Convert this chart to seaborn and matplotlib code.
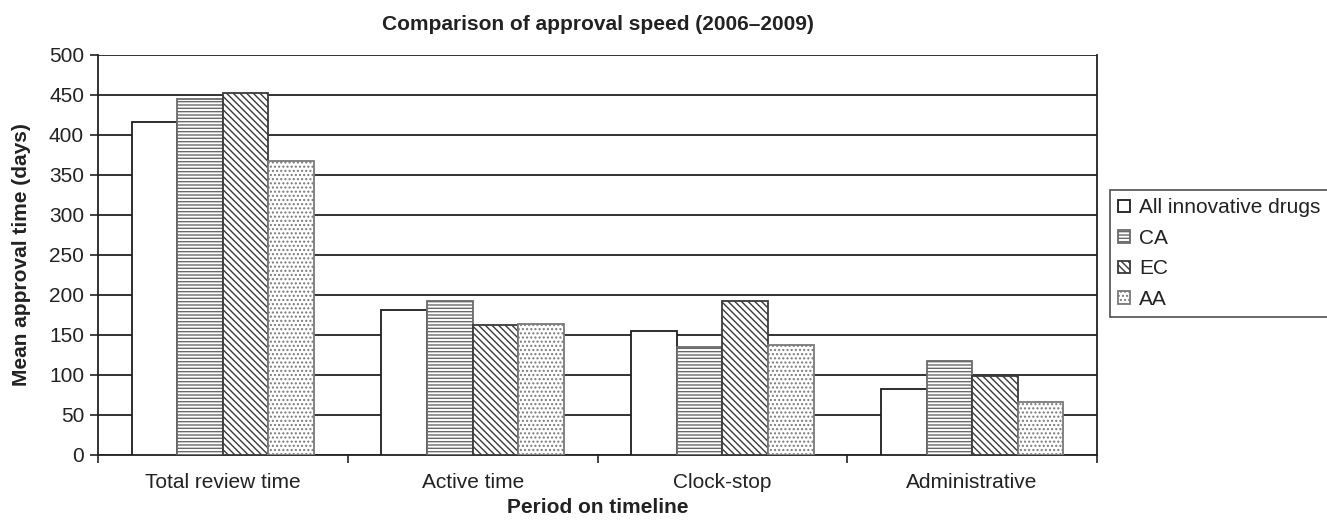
import matplotlib
matplotlib.use("Agg")
import matplotlib.pyplot as plt
import seaborn as sns
import pandas as pd
import numpy as np

# Mean approval times (days) per period and drug group
periods = ["Total review time", "Active time", "Clock-stop", "Administrative"]
groups = ["All innovative drugs", "CA", "EC", "AA"]
all_drugs = [416, 181, 155, 83]
ca = [445, 192, 135, 117]
ec = [452, 162, 192, 99]
aa = [367, 164, 138, 66]
y_ticks = [0, 50, 100, 150, 200, 250, 300, 350, 400, 450, 500]

df = pd.DataFrame({
    "Period": periods * 4,
    "Group": [g for g in groups for _ in periods],
    "Days": all_drugs + ca + ec + aa,
})

sns.set_theme(style="white")
plt.rcParams["font.family"] = ["Liberation Sans", "DejaVu Sans"]
plt.rcParams["hatch.linewidth"] = 1.0

fig = plt.figure(figsize=(13.27, 5.23), dpi=100)
ax = fig.add_axes([98 / 1327, 1 - 455 / 523, (1097 - 98) / 1327, 400 / 523])

sns.barplot(data=df, x="Period", y="Days", hue="Group", order=periods,
            hue_order=groups, width=0.73, dodge=True, gap=0,
            palette=["white"] * 4, saturation=1, edgecolor="#2a2a2a",
            linewidth=1.3, ax=ax, legend=True, zorder=3)

hatches = ["", "-----", "\\" * 5, "...."]
hatch_edges = ["#1e1e1e", "#6a6a6a", "#3a3a3a", "#7a7a7a"]
for cont, h, ec_ in zip(ax.containers, hatches, hatch_edges):
    for p in cont.patches:
        p.set_hatch(h)
        p.set_facecolor("white")
        p.set_edgecolor(ec_)

ax.set_ylim(0, 500)
ax.set_xlim(-0.5, 3.5)
ax.set_yticks(y_ticks)
ax.yaxis.grid(True, color="#222222", linewidth=1.3)
ax.set_axisbelow(True)
for s in ["left", "bottom", "right"]:
    ax.spines[s].set_color("#222222")
    ax.spines[s].set_linewidth(1.3)
ax.spines["top"].set_visible(False)

ax.tick_params(axis="y", direction="out", length=6, width=1.2, color="#222222",
               labelsize=15, labelcolor="#222222", left=True, pad=4)
ax.tick_params(axis="x", which="major", length=0, labelsize=15,
               labelcolor="#222222", pad=13)
ax.set_xticks(np.arange(-0.5, 4.0, 1.0), minor=True)
ax.tick_params(axis="x", which="minor", direction="out", length=6, width=1.2,
               color="#222222", bottom=True)

ax.set_xlabel("Period on timeline", fontsize=15, fontweight="bold",
              color="#222222", labelpad=4)
ax.set_ylabel("Mean approval time (days)", fontsize=15, fontweight="bold",
              color="#222222", labelpad=13)
ax.set_title("Comparison of approval speed (2006\u20132009)", fontsize=15,
             fontweight="bold", color="#222222", pad=18)

handles, labels = ax.get_legend_handles_labels()
for hd, h, ec_ in zip(handles, hatches, hatch_edges):
    hd.set_hatch(h)
    hd.set_edgecolor(ec_)
leg = ax.legend(handles, labels, loc="upper left",
                bbox_to_anchor=(1110 / 1327, 1 - 190 / 523),
                bbox_transform=fig.transFigure, fontsize=15, frameon=True,
                fancybox=False, edgecolor="#222222", handlelength=0.55,
                handleheight=0.55, handletextpad=0.45, labelspacing=0.55,
                borderpad=0.4, borderaxespad=0)
leg.get_frame().set_linewidth(1.2)
for t in leg.get_texts():
    t.set_color("#222222")

fig.savefig("out.png", dpi=100)
